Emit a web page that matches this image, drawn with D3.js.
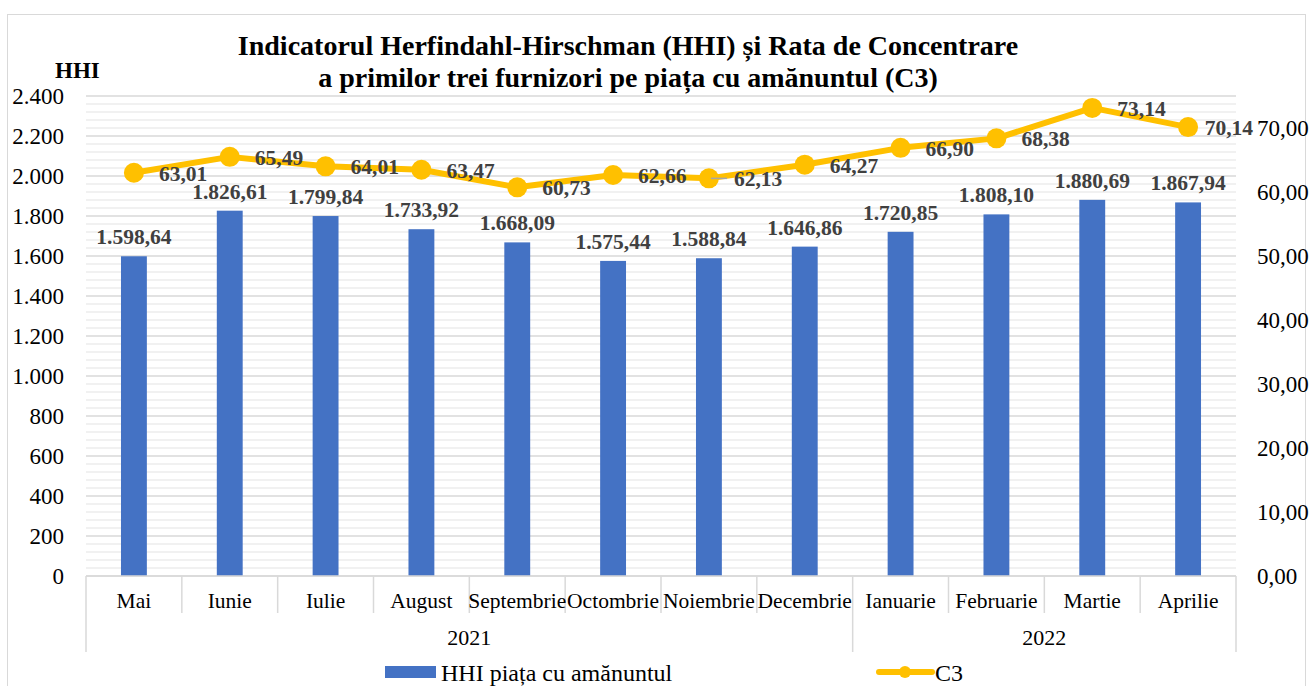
<!DOCTYPE html>
<html>
<head>
<meta charset="utf-8">
<script src="https://cdn.jsdelivr.net/npm/d3@7"></script>
<style>
  body { margin: 0; background: #fff; }
  text { font-family: "Liberation Serif", "Times New Roman", serif; }
</style>
</head>
<body>
<script>
// ---------------------------------- data ----------------------------------//
var months = ["Mai", "Iunie", "Iulie", "August", "Septembrie", "Octombrie",
  "Noiembrie", "Decembrie", "Ianuarie", "Februarie", "Martie", "Aprilie"];
var years = [
  { label: "2021", from: 0, to: 8 },
  { label: "2022", from: 8, to: 12 }
];
var hhi = [1598.64, 1826.61, 1799.84, 1733.92, 1668.09, 1575.44,
  1588.84, 1646.86, 1720.85, 1808.10, 1880.69, 1867.94];
var c3 = [63.01, 65.49, 64.01, 63.47, 60.73, 62.66,
  62.13, 64.27, 66.90, 68.38, 73.14, 70.14];
var leftTicks = d3.range(0, 2401, 200);
var rightTicks = d3.range(0, 71, 10);

var width = 1310, height = 686;
var plotLeft = 86, plotRight = 1236, plotTop = 96, plotBottom = 576;

var ro = d3.formatLocale({ decimal: ",", thousands: ".", grouping: [3], currency: ["", ""] });
var fmt2 = ro.format(",.2f"), fmt0 = ro.format(",.0f");

var svg = d3.select("body").append("svg")
  .attr("width", width).attr("height", height);

// chart border
svg.append("rect")
  .attr("x", 7.5).attr("y", 14.5)
  .attr("width", 1298).attr("height", 700)
  .attr("fill", "#fff").attr("stroke", "#d9d9d9");

var x = d3.scaleBand().domain(months).range([plotLeft, plotRight]);
var yL = d3.scaleLinear().domain([0, 2400]).range([plotBottom, plotTop]);
var yR = d3.scaleLinear().domain([0, 75]).range([plotBottom, plotTop]);

//------------------------------------ grid ----------------------------------//
svg.append("g").selectAll("line")
  .data(d3.range(0, 2401, 40).filter(function (d) { return d % 200 !== 0; }))
  .enter().append("line")
  .attr("x1", plotLeft).attr("x2", plotRight)
  .attr("y1", function (d) { return yL(d); })
  .attr("y2", function (d) { return yL(d); })
  .attr("stroke", "#ececec").attr("stroke-width", 1.3);

svg.append("g").selectAll("line")
  .data(leftTicks)
  .enter().append("line")
  .attr("x1", plotLeft).attr("x2", plotRight)
  .attr("y1", function (d) { return yL(d); })
  .attr("y2", function (d) { return yL(d); })
  .attr("stroke", "#d9d9d9").attr("stroke-width", 1.4);

// left axis labels
svg.append("g").selectAll("text")
  .data(leftTicks)
  .enter().append("text")
  .attr("x", 64).attr("y", function (d) { return yL(d) + 7.5; })
  .attr("text-anchor", "end")
  .style("font-size", "23px").attr("fill", "#000")
  .text(function (d) { return fmt0(d); });

// right axis labels
svg.append("g").selectAll("text")
  .data(rightTicks)
  .enter().append("text")
  .attr("x", 1257).attr("y", function (d) { return yR(d) + 7.5; })
  .style("font-size", "23px").attr("fill", "#000")
  .text(function (d) { return fmt2(d); });

//------------------------------------ bars ----------------------------------//
var bw = x.bandwidth() * 0.27;
svg.append("g").selectAll("rect")
  .data(hhi)
  .enter().append("rect")
  .attr("x", function (d, i) { return x(months[i]) + x.bandwidth() / 2 - bw / 2; })
  .attr("y", function (d) { return yL(d); })
  .attr("width", bw)
  .attr("height", function (d) { return plotBottom - yL(d); })
  .attr("fill", "#4472c4");

svg.append("g").selectAll("text")
  .data(hhi)
  .enter().append("text")
  .attr("x", function (d, i) { return x(months[i]) + x.bandwidth() / 2; })
  .attr("y", function (d) { return yL(d) - 12; })
  .attr("text-anchor", "middle")
  .style("font-size", "21.5px").style("font-weight", "bold")
  .attr("fill", "#404040")
  .text(function (d) { return fmt2(d); });

//------------------------------------ x axis --------------------------------//
svg.append("line")
  .attr("x1", plotLeft).attr("x2", plotRight)
  .attr("y1", plotBottom).attr("y2", plotBottom)
  .attr("stroke", "#d9d9d9").attr("stroke-width", 1.5);

var bounds = d3.range(0, months.length + 1);
svg.append("g").selectAll("line")
  .data(bounds)
  .enter().append("line")
  .attr("x1", function (i) { return plotLeft + i * x.step(); })
  .attr("x2", function (i) { return plotLeft + i * x.step(); })
  .attr("y1", plotBottom)
  .attr("y2", function (i) {
    var isGroup = years.some(function (yr) { return yr.from === i || yr.to === i; });
    return isGroup ? 652 : 613;
  })
  .attr("stroke", "#d9d9d9").attr("stroke-width", 1.5);

svg.append("g").selectAll("text")
  .data(months)
  .enter().append("text")
  .attr("x", function (d) { return x(d) + x.bandwidth() / 2; })
  .attr("y", 608)
  .attr("text-anchor", "middle")
  .style("font-size", "21.5px").attr("fill", "#000")
  .text(function (d) { return d; });

svg.append("g").selectAll("text")
  .data(years)
  .enter().append("text")
  .attr("x", function (d) { return plotLeft + (d.from + d.to) / 2 * x.step(); })
  .attr("y", 645)
  .attr("text-anchor", "middle")
  .style("font-size", "22px").attr("fill", "#000")
  .text(function (d) { return d.label; });

//------------------------------------ C3 line -------------------------------//
var cx = function (i) { return x(months[i]) + x.bandwidth() / 2; };
var line = d3.line()
  .x(function (d, i) { return cx(i); })
  .y(function (d) { return yR(d); });

svg.append("path")
  .datum(c3)
  .attr("d", line)
  .attr("fill", "none")
  .attr("stroke", "#ffc000").attr("stroke-width", 6)
  .attr("stroke-linejoin", "round");

svg.append("g").selectAll("circle")
  .data(c3)
  .enter().append("circle")
  .attr("cx", function (d, i) { return cx(i); })
  .attr("cy", function (d) { return yR(d); })
  .attr("r", 10)
  .attr("fill", "#ffc000");

// leader line on the Noiembrie label
var leaderIdx = 6;
svg.append("line")
  .attr("x1", cx(leaderIdx) + 2).attr("x2", cx(leaderIdx) + 18)
  .attr("y1", yR(c3[leaderIdx])).attr("y2", yR(c3[leaderIdx]))
  .attr("stroke", "#a6a6a6").attr("stroke-width", 1.5);

// labels right of the point, pushed back so they stay left of the right axis
var maxLabelEnd = 1253;
svg.append("g").selectAll("text")
  .data(c3)
  .enter().append("text")
  .attr("y", function (d) { return yR(d) + 8; })
  .style("font-size", "21.5px").style("font-weight", "bold")
  .attr("fill", "#404040")
  .text(function (d) { return fmt2(d); })
  .attr("x", function (d, i) {
    var w = this.getComputedTextLength();
    return Math.min(cx(i) + 25, maxLabelEnd - w);
  });

//------------------------------------ titles --------------------------------//
var title = svg.append("text")
  .attr("x", 628).attr("text-anchor", "middle")
  .style("font-size", "28px").style("font-weight", "bold").attr("fill", "#000");
title.append("tspan").attr("x", 628).attr("y", 55)
  .text("Indicatorul Herfindahl-Hirschman (HHI) și Rata de Concentrare");
title.append("tspan").attr("x", 628).attr("y", 87)
  .text("a primilor trei furnizori pe piața cu amănuntul (C3)");

svg.append("text")
  .attr("x", 55).attr("y", 78)
  .style("font-size", "23px").style("font-weight", "bold").attr("fill", "#000")
  .text("HHI");

//------------------------------------ legend --------------------------------//
svg.append("rect")
  .attr("x", 385).attr("y", 666).attr("width", 51).attr("height", 12)
  .attr("fill", "#4472c4");
svg.append("text")
  .attr("x", 441).attr("y", 681)
  .style("font-size", "24px").attr("fill", "#000")
  .text("HHI piața cu amănuntul");

svg.append("line")
  .attr("x1", 879).attr("x2", 932).attr("y1", 672).attr("y2", 672)
  .attr("stroke", "#ffc000").attr("stroke-width", 6)
  .attr("stroke-linecap", "round");
svg.append("circle")
  .attr("cx", 905).attr("cy", 672).attr("r", 6)
  .attr("fill", "#ffc000");
svg.append("text")
  .attr("x", 935).attr("y", 681)
  .style("font-size", "24px").attr("fill", "#000")
  .text("C3");
</script>
</body>
</html>
